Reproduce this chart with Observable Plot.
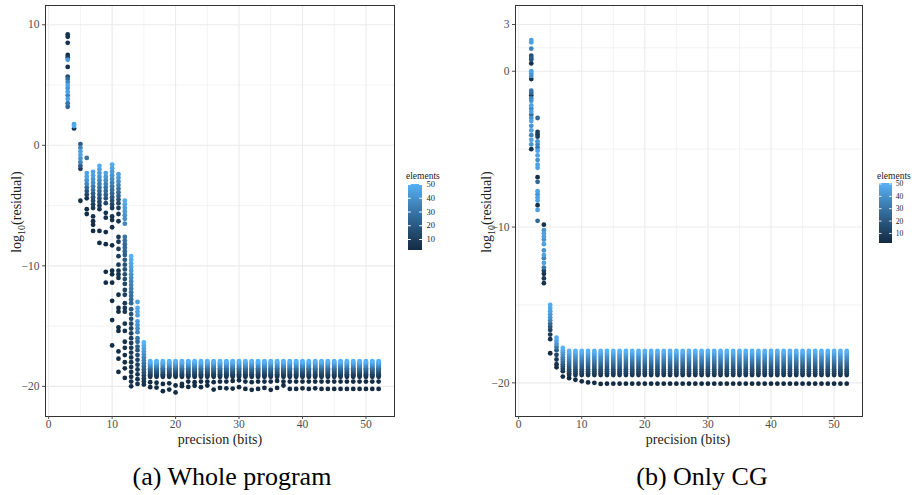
<!DOCTYPE html>
<html><head><meta charset="utf-8">
<script src="https://cdn.jsdelivr.net/npm/d3@7"></script>
<script src="https://cdn.jsdelivr.net/npm/@observablehq/plot@0.6"></script>
<style>
body{margin:0;background:#fff;width:915px;height:495px;position:relative;overflow:hidden;font-family:"Liberation Serif",serif;}
.abs{position:absolute;}
.cap{font-size:26px;color:#000;white-space:nowrap;transform:translate(-50%,-50%);}
.xt{font-size:14px;color:#222;white-space:nowrap;transform:translate(-50%,-50%);line-height:14px;}
.yt{font-size:14px;color:#222;white-space:nowrap;transform:translate(-50%,-50%) rotate(-90deg);}
.yt sub{font-size:10px;}
.lt{font-size:9.5px;color:#222;white-space:nowrap;}
</style></head><body>
<script>
// ---------- data: panel (a) Whole program ----------
const xTicks = [0, 10, 20, 30, 40, 50];
const xMinor = [5, 15, 25, 35, 45];
const yTicksA = [10, 0, -10, -20];
const yMinorA = [5, -5, -15];
const yTicksB = [3, 0, -10, -20];
const yMinorB = [1.5, -5, -15];
const legendTicks = [10, 20, 30, 40, 50];

// [precision, [[elements, log10(residual)], ...]]
const steepA = [
 [3, [[5,9.2],[5,9.0],[5,8.5],[5,7.5],[8,7.3],[42,7.1],[5,6.5],[15,5.7],[25,5.5],[35,5.25],[45,5.0],[40,4.75],[45,4.45],[35,4.15],[45,3.85],[30,3.5],[25,3.2]]],
 [4, [[45,1.75],[48,1.6],[5,1.4]]],
 [5, [[20,0.1],[35,-0.2],[45,-0.5],[45,-0.8],[40,-1.1],[35,-1.4],[20,-1.7],[8,-1.95],[3,-4.6]]],
 [6, [[30,-1.05],[45,-2.3],[45,-2.6],[40,-2.9],[35,-3.2],[25,-3.5],[18,-3.8],[12,-4.1],[5,-4.4],[3,-5.3],[3,-5.7]]],
 [7, [[45,-2.2],[45,-2.5],[40,-2.8],[38,-3.1],[32,-3.4],[28,-3.7],[22,-4.0],[18,-4.3],[14,-4.6],[10,-4.9],[8,-5.2],[4,-5.9],[4,-6.3],[3,-6.6],[3,-7.1]]],
 [8, [[48,-1.7],[45,-2.0],[42,-2.3],[40,-2.6],[36,-2.9],[32,-3.2],[28,-3.5],[24,-3.8],[20,-4.1],[16,-4.4],[12,-4.7],[9,-5.0],[6,-5.3],[3,-7.1],[3,-8.1]]],
 [9, [[45,-2.3],[42,-2.6],[38,-2.9],[34,-3.2],[30,-3.5],[26,-3.8],[22,-4.1],[18,-4.4],[14,-4.8],[6,-5.6],[5,-6.0],[3,-7.2],[3,-8.2],[3,-10.5],[3,-11.4]]],
 [10, [[48,-1.6],[45,-1.9],[42,-2.2],[40,-2.5],[37,-2.8],[34,-3.1],[30,-3.4],[27,-3.7],[24,-4.0],[20,-4.3],[16,-4.6],[12,-4.9],[8,-5.2],[5,-5.9],[5,-6.2],[4,-6.8],[3,-8.3],[3,-10.4],[3,-10.7],[3,-11.4],[3,-12.9],[3,-14.5],[3,-16.6]]],
 [11, [[45,-2.4],[42,-2.7],[38,-3.0],[34,-3.3],[30,-3.6],[26,-3.9],[22,-4.2],[18,-4.5],[14,-4.8],[10,-5.2],[6,-5.7],[6,-6.3],[8,-7.6],[8,-8.0],[10,-8.6],[10,-9.2],[8,-9.9],[6,-10.4],[6,-10.7],[5,-11.0],[4,-12.4],[3,-13.5],[3,-13.8],[3,-15.1],[3,-15.4],[3,-17.1],[3,-17.7],[3,-18.8]]],
 [12, [[48,-4.6],[46,-4.9],[44,-5.2],[42,-5.5],[40,-5.8],[38,-6.1],[36,-6.5],[30,-7.6],[28,-7.9],[26,-8.2],[25,-8.5],[24,-8.8],[22,-9.1],[20,-9.5],[18,-9.9],[17,-10.3],[16,-10.7],[15,-11.1],[14,-11.5],[12,-12.0],[11,-12.4],[8,-13.1],[7,-13.5],[7,-13.8],[6,-14.8],[6,-15.4],[5,-16.3],[5,-16.8],[4,-17.4],[4,-18.0],[3,-18.5],[3,-19.3]]],
 [13, [[50,-9.2],[48,-9.5],[46,-9.8],[44,-10.1],[42,-10.4],[40,-10.7],[38,-11.0],[36,-11.3],[34,-11.6],[32,-11.9],[30,-12.2],[28,-12.5],[26,-12.8],[24,-13.1],[20,-13.6],[16,-14.0],[14,-14.4],[12,-14.8],[11,-15.2],[10,-15.6],[9,-16.0],[8,-16.4],[8,-16.8],[7,-17.2],[6,-17.6],[6,-18.0],[5,-18.4],[5,-18.8],[4,-19.2],[4,-19.6],[3,-20.0]]],
 [14, [[45,-13.0],[48,-13.5],[46,-13.8],[44,-14.1],[42,-14.6],[40,-14.9],[38,-15.2],[36,-15.5],[30,-16.0],[26,-16.3],[22,-16.7],[18,-17.0],[15,-17.4],[12,-17.8],[10,-18.2],[8,-18.6],[6,-19.0],[5,-19.4],[4,-19.8]]],
 [15, [[50,-16.35],[47,-16.6],[44,-16.85],[41,-17.1],[38,-17.35],[35,-17.6],[32,-17.85],[28,-18.1],[24,-18.35],[20,-18.6],[16,-18.85],[12,-19.1],[9,-19.35],[6,-19.6],[4,-19.85]]]
];
const flatColsA = [16,17,18,19,20,21,22,23,24,25,26,27,28,29,30,31,32,33,34,35,36,37,38,39,40,41,42,43,44,45,46,47,48,49,50,51,52];
// shared bar profile of the flat columns: [elements, value]
const flatBandA = [[50,-17.9],[46,-18.0],[42,-18.1],[38,-18.2],[34,-18.3],[30,-18.4],[26,-18.5],[22,-18.6],[18,-18.7],[15,-18.8],[12,-18.9],[9,-19.0],[7,-19.1],[5,-19.2]];
const midDotA = [-19.66,-19.7,-19.8,-19.75,-19.93,-19.8,-19.6,-19.65,-19.6,-19.6,-19.65,-19.6,-19.6,-19.55,-19.5,-19.6,-19.65,-19.6,-19.6,-19.6,-19.55,-19.6,-19.6,-19.6,-19.6,-19.6,-19.6,-19.6,-19.6,-19.6,-19.6,-19.6,-19.6,-19.6,-19.6,-19.6,-19.6];
const lowDotA = [-20.07,-20.1,-20.4,-20.27,-20.5,-19.98,-20.05,-19.95,-20.07,-19.93,-20.27,-20.13,-20.16,-20.18,-20.07,-20.21,-20.29,-20.21,-20.13,-20.29,-20.13,-19.93,-20.21,-20.21,-20.16,-20.21,-20.16,-20.21,-20.21,-20.21,-20.21,-20.21,-20.21,-20.21,-20.21,-20.21,-20.21];

// ---------- data: panel (b) Only CG ----------
const steepB = [
 [2, [[45,2.0],[45,1.85],[35,1.45],[15,1.0],[20,0.85],[15,0.75],[5,0.5],[45,0.0],[40,-0.15],[40,-0.3],[5,-0.5],[30,-1.25],[25,-1.4],[5,-1.56],[35,-1.75],[40,-1.9],[45,-2.2],[35,-2.4],[45,-2.6],[25,-2.8],[40,-3.0],[45,-3.2],[40,-3.5],[45,-3.8],[35,-4.1],[45,-4.4],[40,-4.7],[5,-5.0]]],
 [3, [[25,-3.0],[10,-3.9],[8,-4.05],[10,-4.2],[40,-4.5],[35,-4.7],[30,-4.9],[45,-5.1],[45,-5.4],[40,-5.7],[45,-6.0],[45,-6.2],[5,-6.8],[25,-7.1],[45,-7.7],[40,-7.9],[45,-8.1],[45,-8.3],[5,-8.6],[45,-8.9],[25,-9.6]]],
 [4, [[5,-9.85],[40,-10.2],[45,-10.4],[45,-10.6],[40,-10.8],[45,-11.1],[40,-11.5],[45,-11.8],[35,-12.0],[45,-12.3],[30,-12.6],[10,-12.8],[5,-13.0],[8,-13.3],[5,-13.6]]],
 [5, [[48,-15.0],[46,-15.2],[45,-15.4],[42,-15.6],[40,-15.8],[35,-16.0],[25,-16.2],[18,-16.4],[12,-16.6],[8,-16.9],[5,-17.2],[3,-18.1]]],
 [6, [[48,-17.1],[45,-17.3],[40,-17.5],[30,-17.7],[20,-17.9],[12,-18.2],[8,-18.5],[5,-18.8],[3,-19.0]]],
 [7, [[50,-17.75],[46,-17.9],[42,-18.05],[38,-18.2],[34,-18.35],[30,-18.5],[25,-18.65],[20,-18.8],[15,-18.95],[10,-19.1],[6,-19.25],[3,-19.6]]]
];
const flatColsB = [8,9,10,11,12,13,14,15,16,17,18,19,20,21,22,23,24,25,26,27,28,29,30,31,32,33,34,35,36,37,38,39,40,41,42,43,44,45,46,47,48,49,50,51,52];
const flatBandB = [[50,-17.95],[46,-18.08],[42,-18.21],[38,-18.34],[34,-18.47],[30,-18.6],[26,-18.73],[22,-18.86],[18,-18.99],[15,-19.12],[12,-19.25],[9,-19.38],[6,-19.5]];
const lowDotB = [-19.7,-19.8,-19.9,-19.97,-20.0,-20.07,-20.05,-20.05,-20.05,-20.05,-20.05,-20.05,-20.05,-20.05,-20.05,-20.05,-20.05,-20.05,-20.05,-20.05,-20.05,-20.05,-20.05,-20.05,-20.05,-20.05,-20.05,-20.05,-20.05,-20.05,-20.05,-20.05,-20.05,-20.05,-20.05,-20.05,-20.05,-20.05,-20.05,-20.05,-20.05,-20.05,-20.05,-20.05,-20.05];

const colorScale = {type: "linear", domain: [2, 50], range: ["#132B43", "#56B1F7"], interpolate: d3.interpolateLab};
const grey = "#ebebeb";

function buildRows(steep, flatCols, band, lows, mids) {
  const rows = [];
  for (const [x, pts] of steep) for (const [el, v] of pts) rows.push({x, el, v});
  flatCols.forEach((x, i) => {
    for (const [el, v] of band) rows.push({x, el, v});
    if (mids && mids[i] != null) rows.push({x, el: 3, v: mids[i]});
    rows.push({x, el: 2, v: lows[i]});
  });
  return rows.sort((a, b) => a.el - b.el);
}

function panel(rows, yDomain, yTicks, yMinor, marginRight) {
  return Plot.plot({
    width: 400, height: 440,
    marginLeft: 45, marginRight, marginTop: 5, marginBottom: 24,
    x: {domain: [-0.5, 54.5]},
    y: {domain: yDomain},
    color: colorScale,
    style: {fontFamily: "Liberation Serif, serif", fontSize: "11.5px", background: "white", overflow: "visible"},
    marks: [
      Plot.gridX(xMinor, {stroke: grey, strokeOpacity: 1, strokeWidth: 0.6}),
      Plot.gridY(yMinor, {stroke: grey, strokeOpacity: 1, strokeWidth: 0.6}),
      Plot.gridX(xTicks, {stroke: grey, strokeOpacity: 1, strokeWidth: 1.1}),
      Plot.gridY(yTicks, {stroke: grey, strokeOpacity: 1, strokeWidth: 1.1}),
      Plot.dot(rows, {x: "x", y: "v", fill: "el", r: 2.4}),
      Plot.frame({stroke: "#333333", strokeWidth: 1}),
      Plot.axisX(xTicks, {tickSize: 3, tickPadding: 0, color: "#4d4d4d", label: null}),
      Plot.axisY(yTicks, {tickSize: 3, tickPadding: 3, color: "#4d4d4d", label: null})
    ]
  });
}

function legend() {
  const steps = d3.range(2, 50, 0.5);
  return Plot.plot({
    width: 40, height: 76,
    marginLeft: 0, marginRight: 26, marginTop: 5, marginBottom: 5,
    x: {domain: [0, 1], axis: null},
    y: {domain: [2, 50]},
    color: colorScale,
    style: {fontFamily: "Liberation Serif, serif", fontSize: "8.5px", background: "transparent", overflow: "visible"},
    marks: [
      Plot.rect(steps, {x1: 0, x2: 1, y1: d => d, y2: d => Math.min(50, d + 1), fill: d => d + 0.25, shapeRendering: "crispEdges"}),
      Plot.ruleY(legendTicks, {x1: 0, x2: 0.2, stroke: "white", strokeWidth: 1}),
      Plot.ruleY(legendTicks, {x1: 0.8, x2: 1, stroke: "white", strokeWidth: 1}),
      Plot.axisY(legendTicks, {anchor: "right", tickSize: 0, tickPadding: 4, color: "#222", label: null})
    ]
  });
}

function place(el, left, top) {
  const d = document.createElement("div");
  d.className = "abs";
  d.style.left = left + "px"; d.style.top = top + "px";
  d.appendChild(el);
  document.body.appendChild(d);
  return d;
}
function text(html, cls, left, top) {
  const d = document.createElement("div");
  d.className = "abs " + cls;
  d.style.left = left + "px"; d.style.top = top + "px";
  d.innerHTML = html;
  document.body.appendChild(d);
}

const rowsA = buildRows(steepA, flatColsA, flatBandA, lowDotA, midDotA);
const rowsB = buildRows(steepB, flatColsB, flatBandB, lowDotB, null);

place(panel(rowsA, [-22.5, 11.6], yTicksA, yMinorA, 6), 0, 0);
place(panel(rowsB, [-22.16, 4.22], yTicksB, yMinorB, 8), 470, 0);
place(legend(), 408, 179);
place(legend(), 879, 179);
text("elements", "lt", 406, 171);
text("elements", "lt", 877, 171);

text("precision (bits)", "xt", 220, 440);
text("precision (bits)", "xt", 688, 440);
text("log<sub>10</sub>(residual)", "yt", 18, 212);
text("log<sub>10</sub>(residual)", "yt", 488, 212);
text("(a) Whole program", "cap", 232, 477);
text("(b) Only CG", "cap", 702, 477);
</script>
</body></html>
